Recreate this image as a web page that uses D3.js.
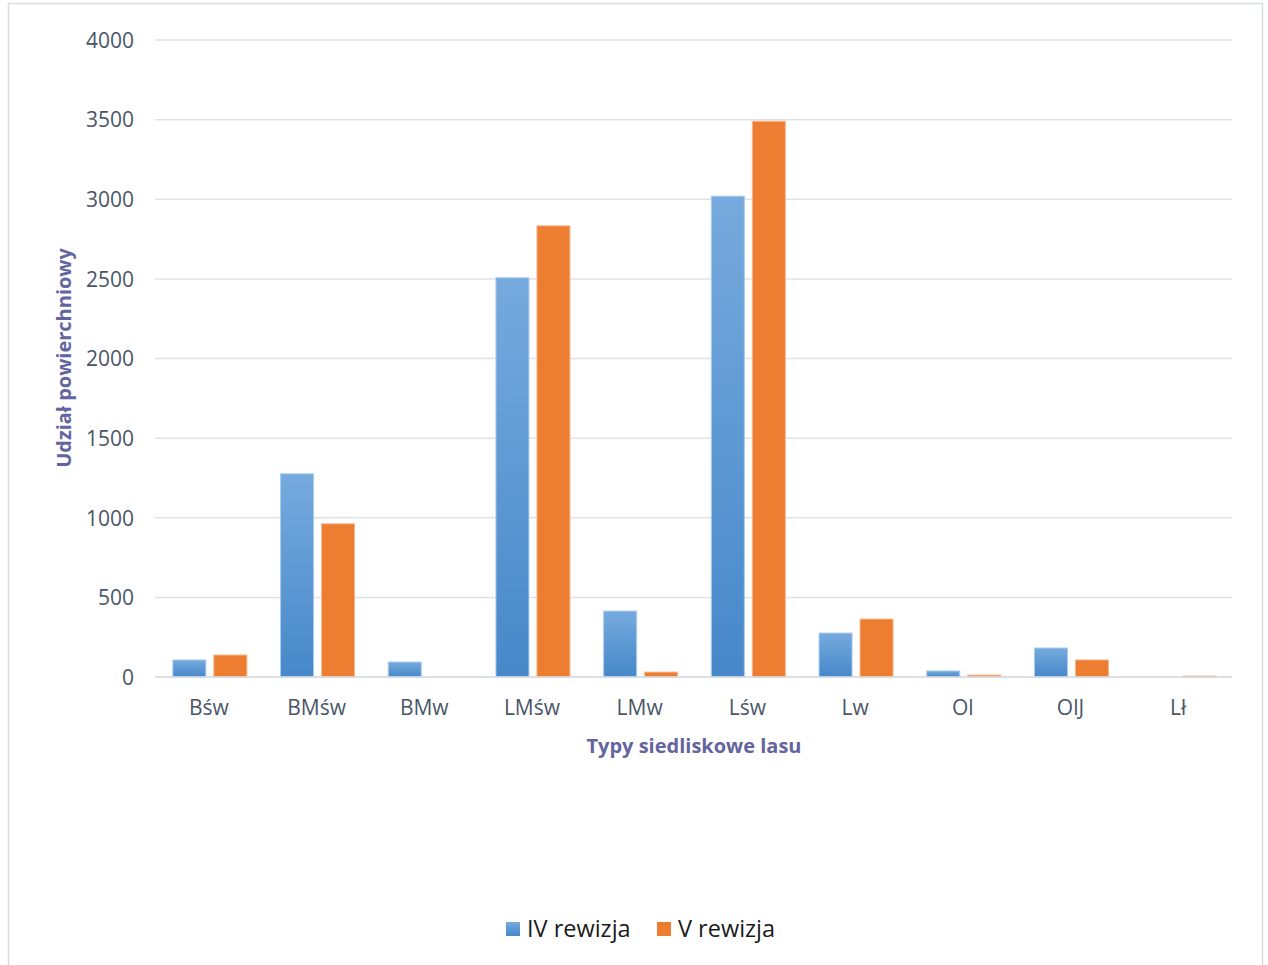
<!DOCTYPE html>
<html><head><meta charset="utf-8">
<script src="https://cdn.jsdelivr.net/npm/d3@7"></script>
<style>html,body{margin:0;padding:0;background:#fff;overflow:hidden}</style>
</head><body>
<svg id="c" width="1268" height="965"></svg>
<script>
const categories = ["Bśw","BMśw","BMw","LMśw","LMw","Lśw","Lw","Ol","OlJ","Lł"];
const seriesNames = ["IV rewizja","V rewizja"];
const ivRewizja = [107, 1276, 94, 2507, 414, 3019, 276, 38, 182, 0];
const vRewizja  = [138, 962, 0, 2833, 31, 3490, 364, 12, 107, 6];
const yTicks = [0,500,1000,1500,2000,2500,3000,3500,4000];

const svg = d3.select("#c");
const font = "'Open Sans', 'Noto Sans', sans-serif";
const tickColor = "#4a5668";
const titleColor = "#6464a0";

// chart frame
svg.append("path").attr("d","M8.5,975 V3.5 H1262.5 V975").attr("fill","none").attr("stroke","#d9dde3").attr("stroke-width",1.5);

const defs = svg.append("defs");
const gb = defs.append("linearGradient").attr("id","gBlue").attr("x1",0).attr("y1",0).attr("x2",0).attr("y2",1);
gb.append("stop").attr("offset","0%").attr("stop-color","#76aade");
gb.append("stop").attr("offset","100%").attr("stop-color","#4688c9");

const x0 = d3.scaleBand().domain(categories).range([155,1232]).paddingInner(0).paddingOuter(0);
const bw0 = x0.bandwidth();
const x1 = d3.scaleBand().domain(seriesNames).range([(bw0-74)/2+1, (bw0+74)/2+1]).paddingInner(0.195).paddingOuter(0);
const y = d3.scaleLinear().domain([0,4000]).range([677,40]);

// gridlines
svg.append("g").selectAll("line").data(yTicks).join("line")
  .attr("x1",155).attr("x2",1232)
  .attr("y1",d=>y(d)).attr("y2",d=>y(d))
  .attr("stroke","#dfe3e8").attr("stroke-width",1.5);

// y axis labels
const yAxis = d3.axisLeft(y).tickValues(yTicks).tickFormat(d3.format("d")).tickSize(0).tickPadding(0);
const ya = svg.append("g").attr("transform","translate(134,0)").call(yAxis);
ya.select(".domain").remove();
ya.selectAll("text").attr("font-family",font).attr("font-size",21).attr("fill",tickColor).attr("dy","0.35em");

// bars
const data = categories.map((c,i)=>({cat:c, vals:[{s:seriesNames[0],v:ivRewizja[i]},{s:seriesNames[1],v:vRewizja[i]}]}));
const groups = svg.append("g").selectAll("g").data(data).join("g")
  .attr("transform",d=>`translate(${x0(d.cat)},0)`);
groups.selectAll("rect").data(d=>d.vals.filter(e=>e.v>0)).join("rect")
  .attr("x",d=>x1(d.s)).attr("width",x1.bandwidth())
  .attr("y",d=>y(d.v)).attr("height",d=>y(0)-y(d.v))
  .attr("fill",d=>d.s===seriesNames[0]?"url(#gBlue)":"#ed7d31")
  .attr("stroke",d=>d.s===seriesNames[0]?"#a9cbee":"#f6b68c")
  .attr("stroke-width",1);

// baseline
svg.append("line").attr("x1",155).attr("x2",1232).attr("y1",y(0)).attr("y2",y(0)).attr("stroke","#d9dde3").attr("stroke-width",1.5);

// x axis labels
const xAxis = d3.axisBottom(x0).tickSize(0).tickPadding(0);
const xa = svg.append("g").attr("transform","translate(0,708)").call(xAxis);
xa.select(".domain").remove();
xa.selectAll("text").attr("font-family",font).attr("font-size",21).attr("fill",tickColor).attr("dy","0.35em");

// axis titles
svg.append("text").attr("x",694).attr("y",753).attr("text-anchor","middle")
  .attr("font-family",font).attr("font-weight","bold").attr("font-size",20).attr("fill",titleColor)
  .text("Typy siedliskowe lasu");
svg.append("text").attr("transform","translate(71,358) rotate(-90)").attr("text-anchor","middle")
  .attr("font-family",font).attr("font-weight","bold").attr("font-size",20).attr("fill",titleColor)
  .text("Udział powierchniowy");

// legend
const legColors = ["url(#gBlue)","#ed7d31"];
const legX = [506, 657];
const lg = svg.append("g").selectAll("g").data(seriesNames).join("g")
  .attr("transform",(d,i)=>`translate(${legX[i]},922)`);
lg.append("rect").attr("width",14).attr("height",14).attr("fill",(d,i)=>legColors[i]);
lg.append("text").attr("x",21).attr("y",7).attr("dy","0.35em")
  .attr("font-family",font).attr("font-size",23.5).attr("fill","#1a1a1a").text(d=>d);
</script>
</body></html>
